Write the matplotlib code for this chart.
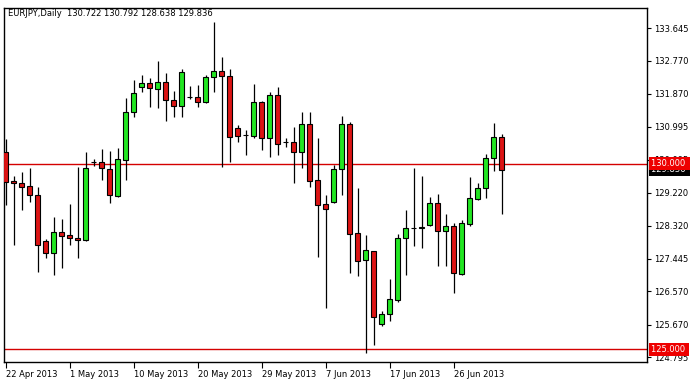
import matplotlib
matplotlib.use("Agg")
import matplotlib.pyplot as plt
import matplotlib.transforms as mtransforms
import numpy as np

#                               DATA (EURJPY daily, 22 Apr - 3 Jul 2013)
opens = [130.301, 129.529, 129.483, 129.395, 129.152, 127.915, 127.584, 128.157, 128.068, 127.996,
         127.934, 130.035, 130.032, 129.852, 129.126, 130.100, 131.377, 132.066, 132.157, 132.012,
         132.192, 131.708, 131.555, 131.800, 131.781, 131.662, 132.319, 132.480, 132.346, 130.947,
         130.760, 130.748, 131.662, 130.678, 131.834, 130.580, 130.570, 130.317, 131.054, 129.556,
         128.902, 128.972, 129.844, 131.062, 128.122, 127.396, 127.646, 125.696, 125.943, 126.328,
         127.988, 128.275, 128.280, 128.359, 128.929, 128.192, 128.319, 127.027, 128.372, 129.058,
         129.333, 130.156, 130.722]
highs = [130.659, 129.664, 129.779, 129.879, 129.376, 127.961, 128.569, 128.507, 128.910, 129.914,
         130.301, 130.121, 130.390, 130.344, 130.409, 131.754, 132.246, 132.380, 132.292, 132.765,
         132.442, 131.950, 132.534, 132.085, 132.111, 132.380, 133.814, 132.873, 132.534, 131.035,
         130.901, 132.138, 131.689, 131.915, 132.050, 130.694, 130.990, 131.385, 131.385, 130.694,
         129.152, 129.959, 131.278, 131.124, 129.333, 128.076, 127.660, 126.032, 126.893, 128.095,
         128.749, 129.871, 129.677, 129.099, 129.179, 128.636, 128.391, 128.480, 129.629, 129.475,
         130.255, 131.097, 130.792]
lows = [128.883, 127.807, 128.749, 128.972, 127.089, 127.466, 127.000, 127.181, 127.807, 127.466,
        127.920, 129.941, 129.556, 128.945, 129.107, 129.556, 131.259, 131.931, 131.528, 131.501,
        131.151, 131.259, 131.259, 131.727, 131.528, 131.635, 131.931, 129.914, 130.048, 130.586,
        130.228, 130.678, 130.363, 130.167, 130.228, 130.452, 129.483, 129.892, 129.376, 127.493,
        126.105, 128.945, 129.152, 127.046, 126.982, 124.910, 125.117, 125.629, 125.771, 126.282,
        127.000, 127.781, 127.740, 128.324, 127.248, 127.248, 126.524, 127.000, 128.332, 129.018,
        129.064, 129.806, 128.638]
closes = [129.510, 129.467, 129.376, 129.144, 127.807, 127.584, 128.149, 128.058, 127.988, 127.934,
          129.871, 130.030, 129.871, 129.144, 130.113, 131.377, 131.888, 132.157, 132.023, 132.184,
          131.700, 131.555, 132.461, 131.795, 131.662, 132.319, 132.480, 132.346, 130.721, 130.748,
          130.756, 131.646, 130.678, 131.834, 130.516, 130.576, 130.317, 131.054, 129.537, 128.897,
          128.768, 129.844, 131.062, 128.095, 127.385, 127.673, 125.863, 125.943, 126.347, 127.996,
          128.257, 128.271, 128.276, 128.929, 128.192, 128.311, 127.062, 128.391, 129.064, 129.333,
          130.140, 130.720, 129.836]

date_ticks = [0, 8, 16, 24, 32, 40, 48, 56]
date_labels = ['22 Apr 2013', '1 May 2013', '10 May 2013', '20 May 2013',
               '29 May 2013', '7 Jun 2013', '17 Jun 2013', '26 Jun 2013']
price_ticks = [133.645, 132.770, 131.870, 130.995, 130.095, 129.220,
               128.320, 127.445, 126.570, 125.670, 124.795]
levels = [130.000, 125.000]

o = np.array(opens)
h = np.array(highs)
l = np.array(lows)
c = np.array(closes)
x = np.arange(len(o))

plt.rcParams['font.family'] = ['DejaVu Sans']
W, H = 693, 381
fig = plt.figure(figsize=(W / 100, H / 100), dpi=100)
fig.patch.set_facecolor('white')
left, right, top, bottom = 4, 647, 8, 362
ax = fig.add_axes([left / W, 1 - bottom / H, (right - left) / W, (bottom - top) / H])

# price <-> pixel: 133.645 at y=28, 37.18 px per yen
ppx = 37.18
ax.set_ylim(133.645 - (bottom - 28) / ppx, 133.645 + (28 - top) / ppx)
ax.set_xlim((left - 5.5) / 8, (right - 5.5) / 8)

# level lines
for lv in levels:
    ax.axhline(lv, color='#d40000', lw=1.0, zorder=1)

# candles
up = c >= o
ax.vlines(x, l, h, color='black', lw=0.9, zorder=2)
body_lo = np.minimum(o, c)
body_h = np.abs(c - o)
cols = np.where(up, '#22e622', '#dc1414')
ax.bar(x, body_h, bottom=body_lo, width=0.52, color=cols,
       edgecolor='black', linewidth=0.8, zorder=3)

# axes styling
for s in ax.spines.values():
    s.set_color('black')
    s.set_linewidth(1.0)
ax.yaxis.tick_right()
ax.set_yticks(price_ticks)
ax.set_yticklabels(['%.3f' % p for p in price_ticks])
ax.set_xticks(date_ticks)
ax.set_xticklabels(date_labels, ha='left')
ax.tick_params(axis='y', direction='out', length=3, width=0.8, labelsize=6, pad=2)
ax.tick_params(axis='x', direction='out', length=4, width=0.8, labelsize=6, pad=2)
for lab in ax.get_xticklabels():
    lab.set_transform(lab.get_transform() + mtransforms.ScaledTranslation(1 / 100, 0, fig.dpi_scale_trans))

# right-side price boxes (current price box sits under the 130.000 box)
trans = mtransforms.blended_transform_factory(ax.transAxes, ax.transData)
xoff = 1 + 4 / (right - left)
ax.text(xoff, c[-1], '%.3f ' % c[-1], transform=trans, ha='left', va='center',
        fontsize=6, color='white', zorder=5, clip_on=False,
        bbox=dict(boxstyle='square,pad=0.2', fc='black', ec='none'))
for lv in levels:
    ax.text(xoff, lv, '%.3f ' % lv, transform=trans, ha='left', va='center',
            fontsize=6, color='white', zorder=6, clip_on=False,
            bbox=dict(boxstyle='square,pad=0.2', fc='#ee0000', ec='none'))

fig.text(8 / W, 1 - 13 / H, 'EURJPY,Daily  130.722 130.792 128.638 129.836',
         fontsize=6, va='center', ha='left')

fig.savefig('out.png', dpi=100)
